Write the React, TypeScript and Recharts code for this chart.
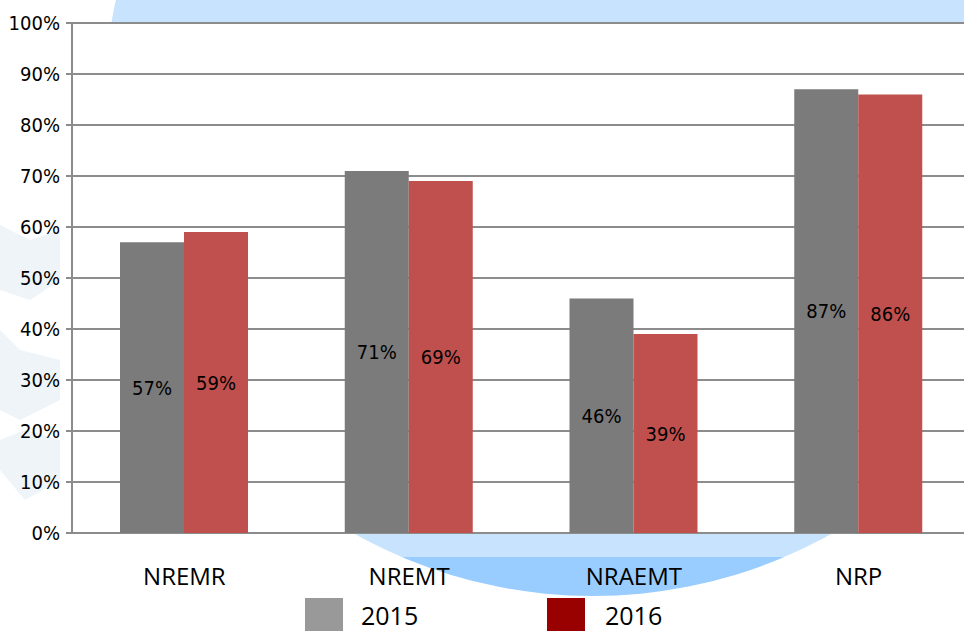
import React from 'react';
import {
  BarChart,
  Bar,
  XAxis,
  YAxis,
  CartesianGrid,
  LabelList,
  Legend,
} from 'recharts';

const categories = ['NREMR', 'NREMT', 'NRAEMT', 'NRP'];
const values2015 = [57, 71, 46, 87];
const values2016 = [59, 69, 39, 86];
const yTicks = [0, 10, 20, 30, 40, 50, 60, 70, 80, 90, 100];
const seriesNames = ['2015', '2016'];

const data = categories.map((name, i) => ({
  name,
  y2015: values2015[i],
  y2016: values2016[i],
}));

const narrow = '"Liberation Sans Narrow", "DejaVu Sans Condensed", sans-serif';
const body = '"Open Sans", "Noto Sans", sans-serif';

const LegendBox = () => (
  <div style={{ position: 'relative', height: 33, fontFamily: body, fontSize: 25, lineHeight: '30px' }}>
    <div style={{ position: 'absolute', left: 305, top: 0, width: 38, height: 38, background: '#999999' }} />
    <span style={{ position: 'absolute', left: 361, top: 2, color: '#000' }}>{seriesNames[0]}</span>
    <div style={{ position: 'absolute', left: 547, top: 0, width: 38, height: 38, background: '#990000' }} />
    <span style={{ position: 'absolute', left: 605, top: 2, color: '#000' }}>{seriesNames[1]}</span>
  </div>
);

export default function App() {
  return (
    <div
      style={{
        position: 'absolute',
        left: 0,
        top: 0,
        width: 964,
        height: 631,
        overflow: 'hidden',
        background: '#fff',
      }}
    >
      <svg width={964} height={631} style={{ position: 'absolute', left: 0, top: 0 }}>
        <defs>
          <clipPath id="circ">
            <circle cx={593} cy={107} r={489} />
          </clipPath>
        </defs>
        <g clipPath="url(#circ)">
          <rect x={0} y={0} width={964} height={557} fill="#c8e3fd" />
          <rect x={0} y={557} width={964} height={80} fill="#99ccff" />
        </g>
        <g fill="#eef4f8">
          <polygon points="0,225 30,240 60,230 60,280 30,300 0,290" />
          <polygon points="0,330 20,350 60,360 60,400 20,420 0,410" />
          <polygon points="0,440 25,430 60,440 60,480 25,500 0,470" />
        </g>
      </svg>
      <div style={{ position: 'absolute', left: 0, top: 0 }}>
        <BarChart
          width={971}
          height={631}
          data={data}
          margin={{ top: 23, right: 0, bottom: 0, left: 0 }}
          barCategoryGap="21.5%"
          barGap={0}
        >
          <CartesianGrid
            vertical={false}
            stroke="#8c8c8c"
            strokeWidth={2}
            fill="#ffffff"
            fillOpacity={1}
          />
          <XAxis
            dataKey="name"
            axisLine={false}
            tickLine={false}
            height={65}
            tick={{ fontFamily: body, fontSize: 24, fill: '#000', dy: 27 }}
          />
          <YAxis
            domain={[0, 100]}
            ticks={yTicks}
            width={72}
            interval={0}
            tickFormatter={(v) => `${v}%`}
            axisLine={{ stroke: '#8c8c8c', strokeWidth: 2 }}
            tickLine={{ stroke: '#8c8c8c', strokeWidth: 2 }}
            tickSize={6}
            tickMargin={6}
            tick={{ fontFamily: narrow, fontSize: 20, fill: '#000' }}
          />
          <Legend verticalAlign="bottom" height={33} content={() => <LegendBox />} />
          <Bar dataKey="y2015" fill="#7b7b7b" barSize={64} isAnimationActive={false}>
            <LabelList
              dataKey="y2015"
              position="center"
              formatter={(v: number) => `${v}%`}
              style={{ fontFamily: narrow, fontSize: 20, fill: '#000' }}
            />
          </Bar>
          <Bar dataKey="y2016" fill="#c0504d" barSize={64} isAnimationActive={false}>
            <LabelList
              dataKey="y2016"
              position="center"
              formatter={(v: number) => `${v}%`}
              style={{ fontFamily: narrow, fontSize: 20, fill: '#000' }}
            />
          </Bar>
        </BarChart>
      </div>
    </div>
  );
}
